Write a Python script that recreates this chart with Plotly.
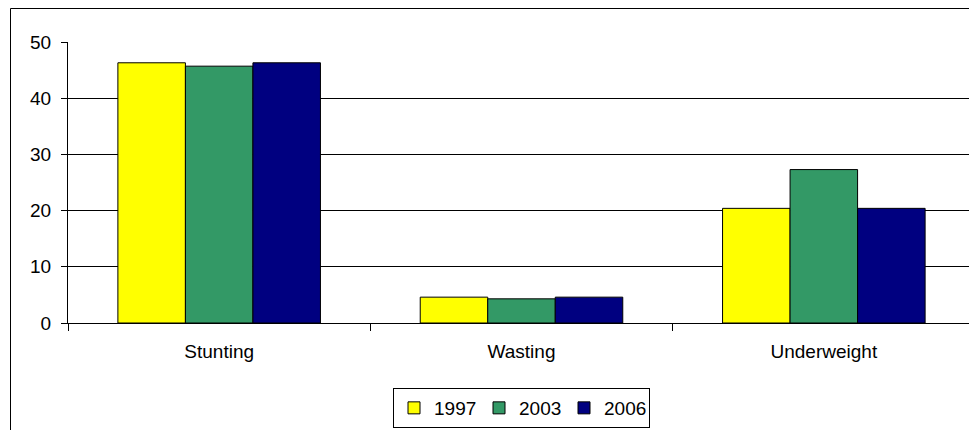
import plotly.graph_objects as go

categories = ["Stunting", "Wasting", "Underweight"]
years = ["1997", "2003", "2006"]
values_1997 = [46.3, 4.6, 20.4]
values_2003 = [45.7, 4.3, 27.3]
values_2006 = [46.3, 4.6, 20.4]
colors = ["#FFFF00", "#339966", "#000080"]
y_ticks = [0, 10, 20, 30, 40, 50]

fig = go.Figure()
for name, vals, col in zip(years, [values_1997, values_2003, values_2006], colors):
    fig.add_trace(go.Bar(
        x=categories, y=vals, name=name,
        marker=dict(color=col, line=dict(color="black", width=1)),
    ))

# page body has an 8px margin
OFF = 8
W, H = 977 - OFF, 430 - OFF
plot_l, plot_r, plot_t, plot_b = 68, 975, 42, 323
ml = plot_l - OFF
mt = plot_t - OFF
mr = (OFF + W) - plot_r
mb = (OFF + H) - plot_b
pw, ph = plot_r - plot_l, plot_b - plot_t

fig.update_layout(
    width=W, height=H,
    margin=dict(l=ml, r=mr, t=mt, b=mb, pad=0),
    paper_bgcolor="white", plot_bgcolor="white",
    barmode="group", bargap=0.33, bargroupgap=0,
    font=dict(family="Liberation Sans, Arial, sans-serif", size=19, color="black"),
    showlegend=True,
    legend=dict(
        orientation="h", x=0.5, xanchor="center",
        y=-(388 - plot_b) / ph, yanchor="top",
        bordercolor="black", borderwidth=1, bgcolor="white",
        font=dict(size=19), itemwidth=30, tracegroupgap=0,
        entrywidth=40, entrywidthmode="pixels",
    ),
    xaxis=dict(
        showline=True, linecolor="black", linewidth=1,
        ticks="outside", tickson="boundaries", ticklen=7, tickcolor="black",
        showgrid=False, fixedrange=True, ticklabelstandoff=11,
    ),
    yaxis=dict(
        range=[0, 50], tickvals=y_ticks,
        showline=True, linecolor="black", linewidth=1,
        ticks="outside", ticklen=6, tickcolor="black",
        showgrid=True, gridcolor="black", gridwidth=1,
        zeroline=False, ticklabelstandoff=6,
    ),
    shapes=[dict(
        type="rect", xref="paper", yref="paper",
        x0=(10.5 - plot_l) / pw, x1=1.05,
        y0=-0.6, y1=1 + (plot_t - 8.5) / ph,
        line=dict(color="black", width=1), fillcolor="rgba(0,0,0,0)", layer="below",
    )],
)

fig.write_html("out.html")
